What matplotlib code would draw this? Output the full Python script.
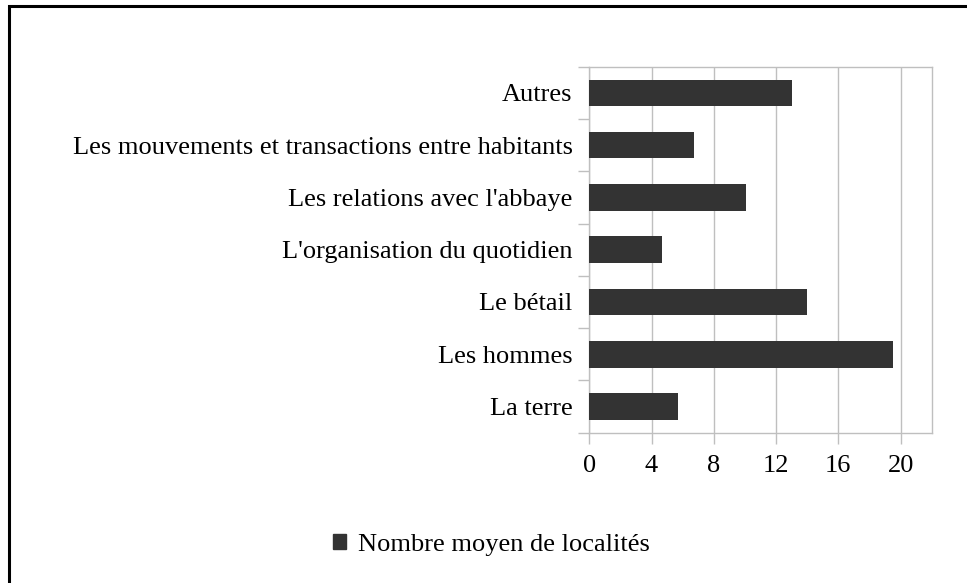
import matplotlib
matplotlib.use("Agg")
from matplotlib import pyplot as plt
from matplotlib.patches import Patch, Rectangle

categories = ["La terre", "Les hommes", "Le bétail", "L'organisation du quotidien",
              "Les relations avec l'abbaye",
              "Les mouvements et transactions entre habitants", "Autres"]
values = [5.7, 19.5, 14.0, 4.7, 10.1, 6.7, 13.0]
xticks = [0, 4, 8, 12, 16, 20]
series_name = "Nombre moyen de localités"

plt.rcParams["font.family"] = ["Liberation Serif", "DejaVu Serif"]
plt.rcParams["font.size"] = 19

bar_color = "#333333"
line_color = "#bfbfbf"

fig = plt.figure(figsize=(9.67, 5.83), dpi=100)
ax = fig.add_axes([0.6094, 0.2578, 0.3541, 0.6278])

pos = list(range(len(categories)))
ax.barh(pos, values, height=0.51, color=bar_color, zorder=3)

ax.set_xlim(0, 22)
ax.set_ylim(-0.5, len(categories) - 0.5)
ax.set_xticks(xticks)
ax.set_xticklabels([str(t) for t in xticks])
ax.set_yticks(pos)
ax.set_yticklabels(categories)
ax.set_yticks([p - 0.5 for p in pos] + [len(categories) - 0.5], minor=True)

ax.grid(axis="x", color=line_color, linewidth=1, zorder=0)
for s in ax.spines.values():
    s.set_color(line_color)
    s.set_linewidth(1)

ax.tick_params(axis="y", which="major", length=0, pad=12)
ax.tick_params(axis="y", which="minor", length=8, color=line_color, width=1, direction="out")
ax.tick_params(axis="x", which="major", length=8, color=line_color, width=1, pad=8)

handle = Patch(facecolor=bar_color, edgecolor=bar_color)
fig.legend([handle], [series_name], loc="center", bbox_to_anchor=(0.508, 0.065),
           frameon=False, handlelength=0.5, handleheight=0.5, handletextpad=0.45)

# outer frame of the chart
fig.patches.append(Rectangle((8.5 / 967, -0.1), 1.2, 1.1 - 5.5 / 583,
                             transform=fig.transFigure, fill=False,
                             edgecolor="black", linewidth=2.2))

plt.savefig("out.png", dpi=100)
